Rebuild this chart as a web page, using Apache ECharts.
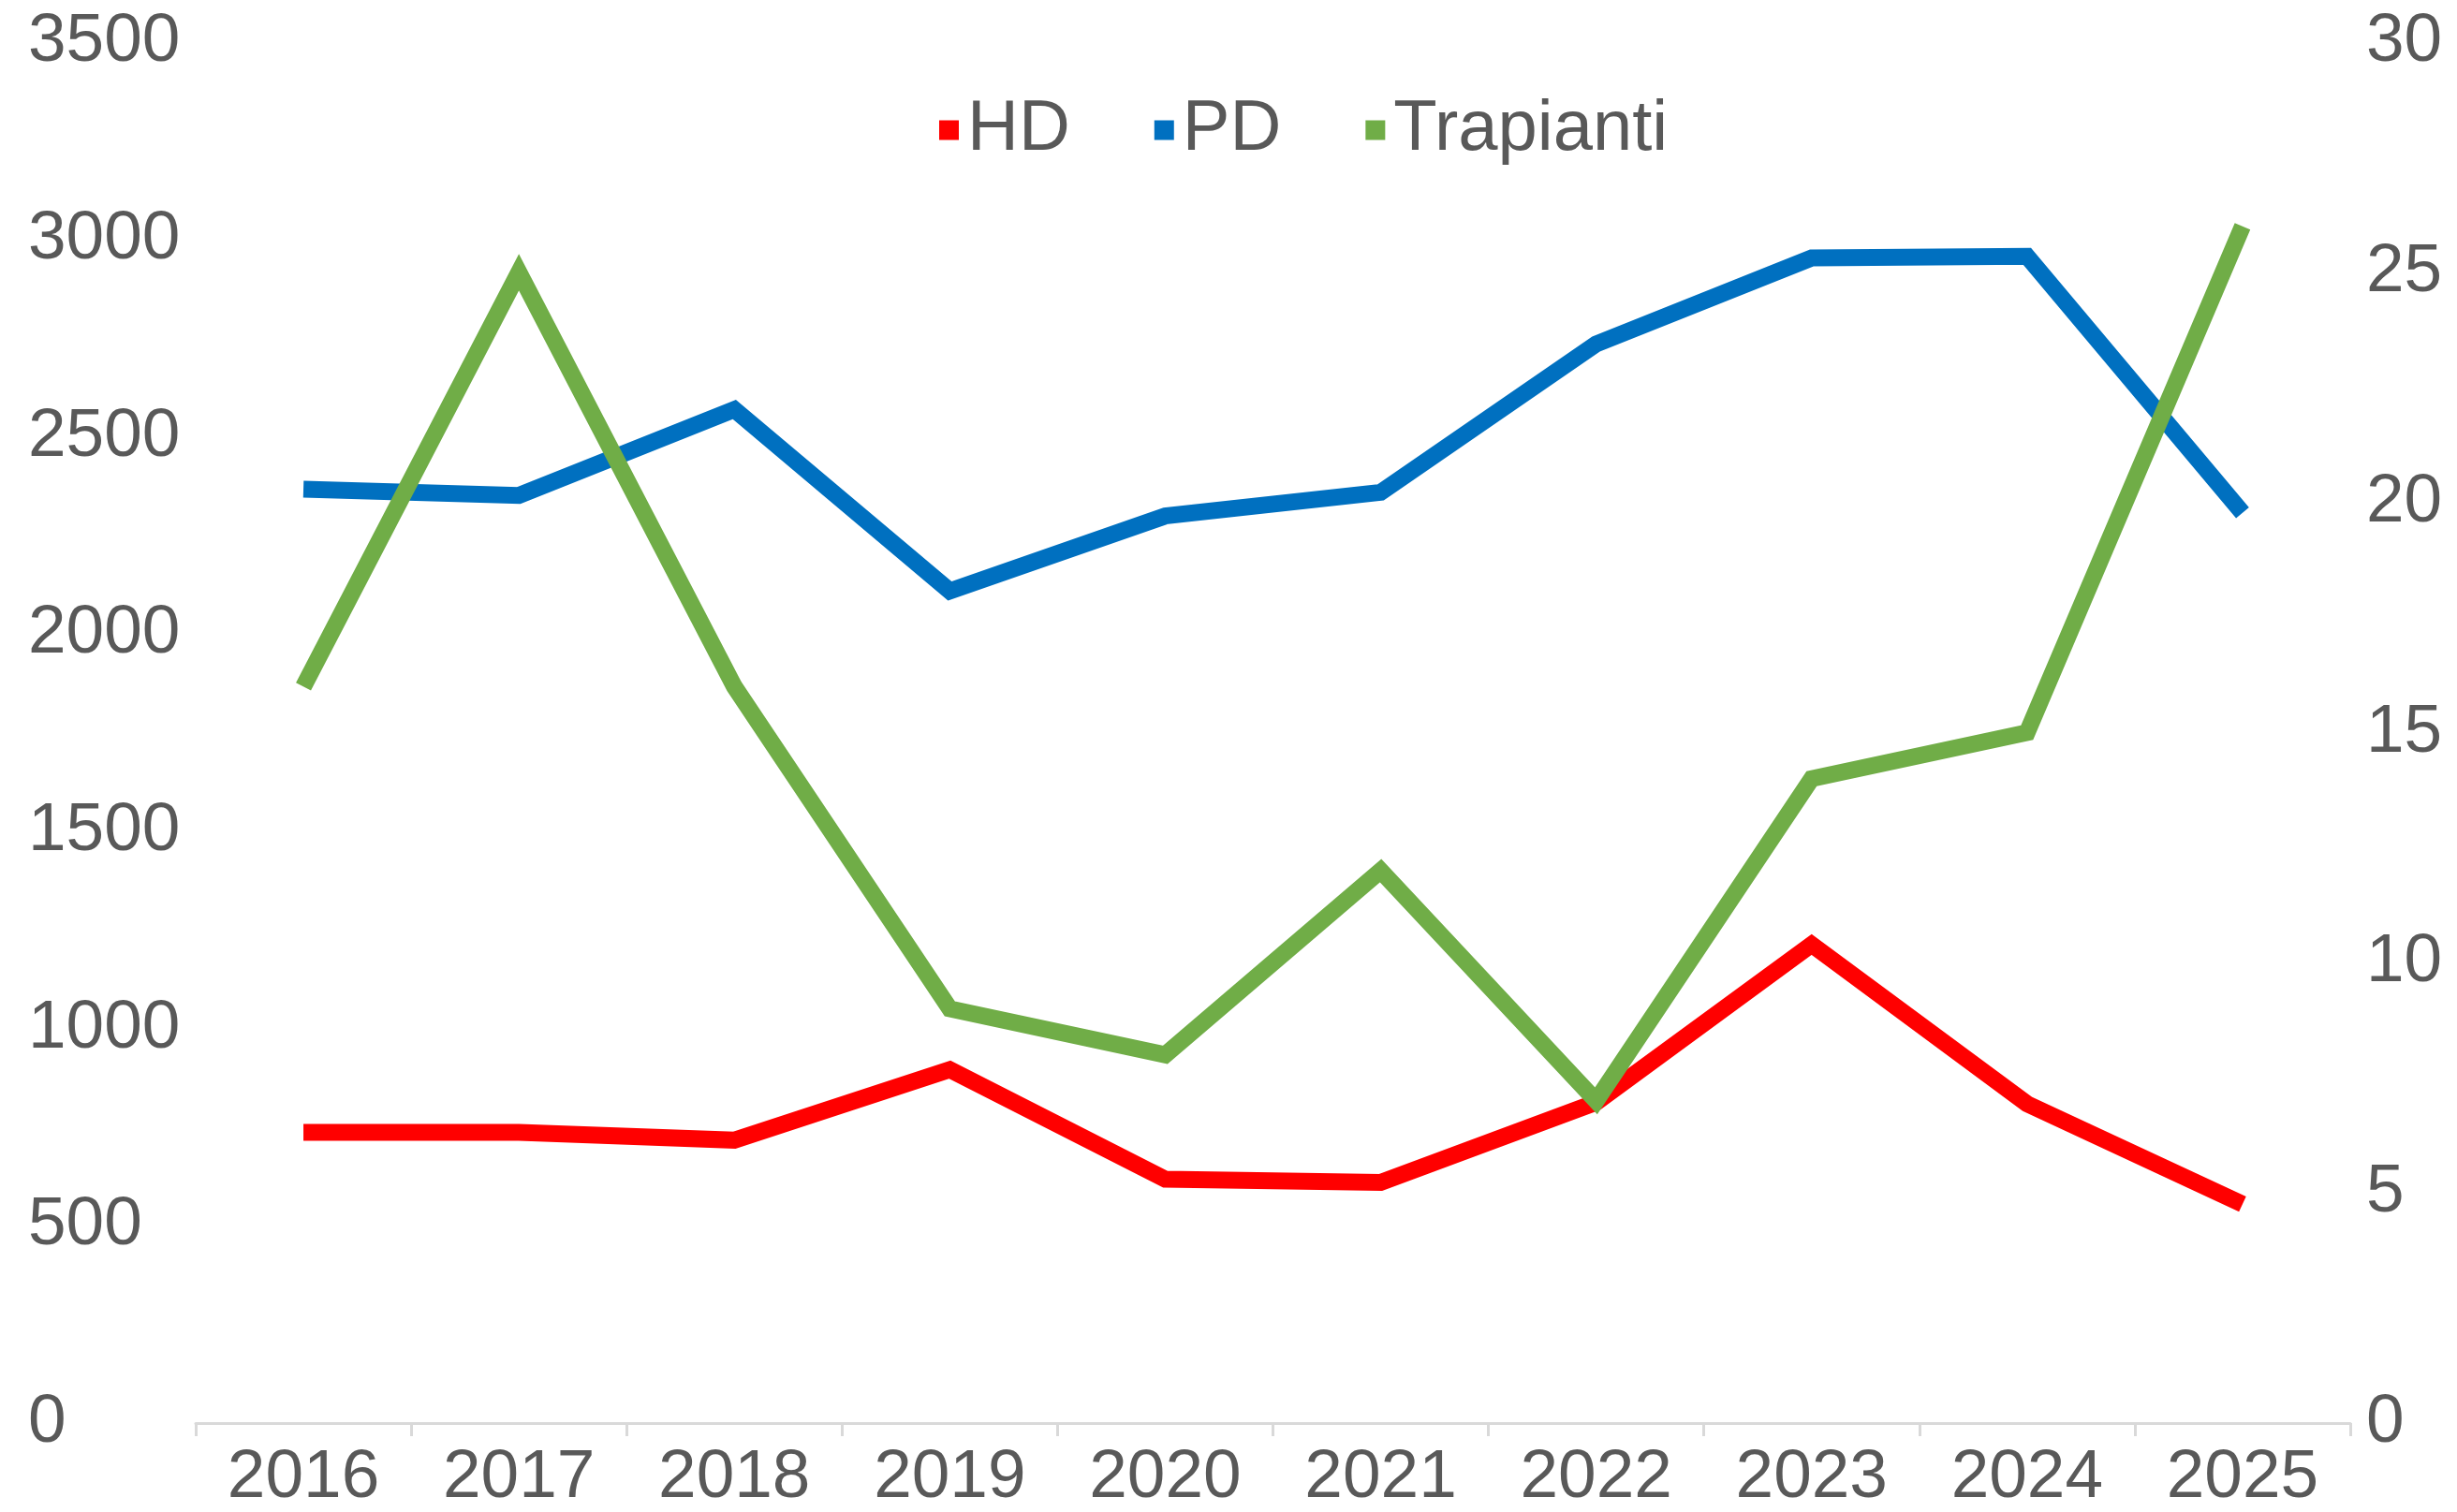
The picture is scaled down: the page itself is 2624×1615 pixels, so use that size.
<!DOCTYPE html>
<html>
<head>
<meta charset="utf-8">
<script src="https://cdn.jsdelivr.net/npm/echarts@6/dist/echarts.min.js"></script>
<style>
  html, body { margin: 0; padding: 0; background: #fff; }
  #main { width: 2624px; height: 1615px; }
</style>
</head>
<body>
<div id="main"></div>
<script>
// data
var years = ['2016', '2017', '2018', '2019', '2020', '2021', '2022', '2023', '2024', '2025'];
var hd = [737, 737, 717, 896, 618, 610, 813, 1213, 809, 555];
var pd = [2367, 2351, 2569, 2109, 2299, 2359, 2735, 2953, 2957, 2307];
var trapianti = [16, 25, 16, 9, 8, 12, 7, 14, 15, 26];

var textColor = '#595959';
var font = 'Liberation Sans, Arial, sans-serif';

var chart = echarts.init(document.getElementById('main'));
chart.setOption({
  animation: false,
  textStyle: { fontFamily: font },
  legend: {
    left: 998,
    top: 96,
    itemWidth: 21,
    itemHeight: 21,
    itemGap: 90,
    icon: 'rect',
    textStyle: { fontSize: 76, color: textColor, fontFamily: font, padding: [0, 0, 0, 4] },
    data: ['HD', 'PD', 'Trapianti']
  },
  grid: { left: 209, right: 114, top: 45, bottom: 92 },
  xAxis: {
    type: 'category',
    data: years,
    boundaryGap: true,
    axisLine: { lineStyle: { color: '#D9D9D9', width: 3 } },
    axisTick: { show: true, length: 14, lineStyle: { color: '#D9D9D9', width: 3 } },
    axisLabel: { fontSize: 73, color: textColor, margin: 22, fontFamily: font }
  },
  yAxis: [
    {
      type: 'value',
      min: 0,
      max: 3500,
      interval: 500,
      splitLine: { show: false },
      axisLine: { show: false },
      axisTick: { show: false },
      axisLabel: {
        fontSize: 73, color: textColor, align: 'left', margin: 179, fontFamily: font,
        formatter: function (v) { return String(v); }
      }
    },
    {
      type: 'value',
      min: 0,
      max: 30,
      interval: 5,
      splitLine: { show: false },
      axisLine: { show: false },
      axisTick: { show: false },
      axisLabel: { fontSize: 73, color: textColor, margin: 17, fontFamily: font }
    }
  ],
  series: [
    {
      name: 'HD',
      type: 'line',
      data: hd,
      yAxisIndex: 0,
      symbol: 'none',
      color: '#FF0000',
      lineStyle: { width: 18, color: '#FF0000', join: 'miter', cap: 'butt' }
    },
    {
      name: 'PD',
      type: 'line',
      data: pd,
      yAxisIndex: 0,
      symbol: 'none',
      color: '#0070C0',
      lineStyle: { width: 18, color: '#0070C0', join: 'miter', cap: 'butt' }
    },
    {
      name: 'Trapianti',
      type: 'line',
      data: trapianti,
      yAxisIndex: 1,
      symbol: 'none',
      color: '#70AD47',
      lineStyle: { width: 18, color: '#70AD47', join: 'miter', cap: 'butt' }
    }
  ]
});
</script>
</body>
</html>
